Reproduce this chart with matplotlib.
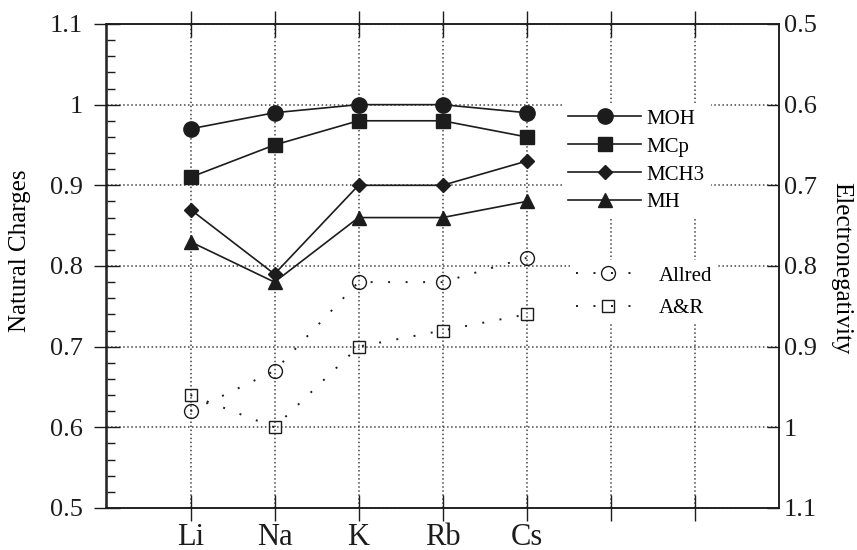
import matplotlib
matplotlib.use('Agg')
import matplotlib.pyplot as plt
from matplotlib.ticker import MultipleLocator

# alkali metals and charges
metals = ['Li', 'Na', 'K', 'Rb', 'Cs']
moh    = [0.97, 0.99, 1.00, 1.00, 0.99]
mcp    = [0.91, 0.95, 0.98, 0.98, 0.96]
mch3   = [0.87, 0.79, 0.90, 0.90, 0.93]
mh     = [0.83, 0.78, 0.86, 0.86, 0.88]

# electronegativities (right axis, inverted)
allred  = [0.98, 0.93, 0.82, 0.82, 0.79]
a_and_r = [0.96, 1.00, 0.90, 0.88, 0.86]

plt.rcParams['font.family'] = ['Liberation Serif', 'DejaVu Serif']
ink = '#1c1c1c'

fig = plt.figure(figsize = (8.57, 5.5), dpi = 100)
ax  = fig.add_axes([106.5 / 857, 0.0764, 672 / 857, 0.88])
ax2 = ax.twinx()

xs = list(range(1, len(metals) + 1))

l1, = ax.plot(xs, moh,  color = ink, lw = 1.2, marker = 'o', ms = 11,  label = 'MOH')
l2, = ax.plot(xs, mcp,  color = ink, lw = 1.2, marker = 's', ms = 9.5, label = 'MCp')
l3, = ax.plot(xs, mch3, color = ink, lw = 1.2, marker = 'D', ms = 7.5, label = 'MCH3')
l4, = ax.plot(xs, mh,   color = ink, lw = 1.2, marker = '^', ms = 10,  label = 'MH')

dots = (0, (1, 8))
l5, = ax2.plot(xs, allred,  color = ink, lw = 1.4, ls = dots, marker = 'o', ms = 10,
               mfc = 'none', mec = ink, mew = 1.0, label = 'Allred')
l6, = ax2.plot(xs, a_and_r, color = ink, lw = 1.4, ls = dots, marker = 's', ms = 9,
               mfc = 'none', mec = ink, mew = 1.0, label = 'A&R')

ax.set_xlim(0, 8)
ax.set_ylim(0.5, 1.1)
ax2.set_ylim(1.1, 0.5)

yt = [0.5, 0.6, 0.7, 0.8, 0.9, 1.0, 1.1]
ylabs = ['0.5', '0.6', '0.7', '0.8', '0.9', '1', '1.1']
ax.set_xticks(range(1, 8))
ax.set_xticklabels(metals + ['', ''], fontsize = 22)
ax.set_yticks(yt)
ax.set_yticklabels(ylabs, fontsize = 19)
ax.yaxis.set_minor_locator(MultipleLocator(0.02))
ax2.set_yticks(yt)
ax2.set_yticklabels(ylabs, fontsize = 19)

ax.tick_params(axis = 'x', which = 'major', direction = 'inout', length = 19, width = 1,
               top = True, pad = 1, colors = ink)
ax.tick_params(axis = 'y', which = 'major', direction = 'inout', length = 19, width = 1,
               right = False, pad = 7.5, colors = ink)
ax.tick_params(axis = 'y', which = 'minor', direction = 'in', length = 6, width = 1,
               right = False, colors = ink)
ax2.tick_params(axis = 'y', which = 'major', direction = 'in', length = 9, width = 1,
                pad = 4, colors = ink)

for a in (ax, ax2):
    for s in a.spines.values():
        s.set_color(ink)
        s.set_linewidth(1.1)

ax.set_axisbelow(True)
ax.xaxis.grid(True, which = 'major', ls = ':', lw = 1.1, color = '#444444')
ax.yaxis.grid(True, which = 'major', ls = ':', lw = 1.1, color = '#444444')

ax.set_ylabel('Natural Charges', fontsize = 18, va = 'center')
ax.yaxis.set_label_coords(-0.128, 0.531)
ax2.set_ylabel('Electronegativity', fontsize = 18, rotation = 270, va = 'center')
ax2.yaxis.set_label_coords(1.094, 0.495)

leg1 = ax2.legend(handles = [l1, l2, l3, l4], loc = 'upper left', bbox_to_anchor = (0.678, 0.837),
                  fontsize = 15, frameon = True, facecolor = 'white', edgecolor = 'none',
                  framealpha = 1, fancybox = False, handlelength = 3.5, handletextpad = 0.25,
                  labelspacing = 0.4, borderpad = 0.3, borderaxespad = 0)
ax2.add_artist(leg1)
ax2.legend(handles = [l5, l6], loc = 'upper left', bbox_to_anchor = (0.69, 0.513),
           fontsize = 15, frameon = True, facecolor = 'white', edgecolor = 'none',
           framealpha = 1, fancybox = False, handlelength = 3.0, handletextpad = 0.95,
           labelspacing = 0.62, borderpad = 0.3, borderaxespad = 0)

plt.savefig('out.png', dpi = 100)
